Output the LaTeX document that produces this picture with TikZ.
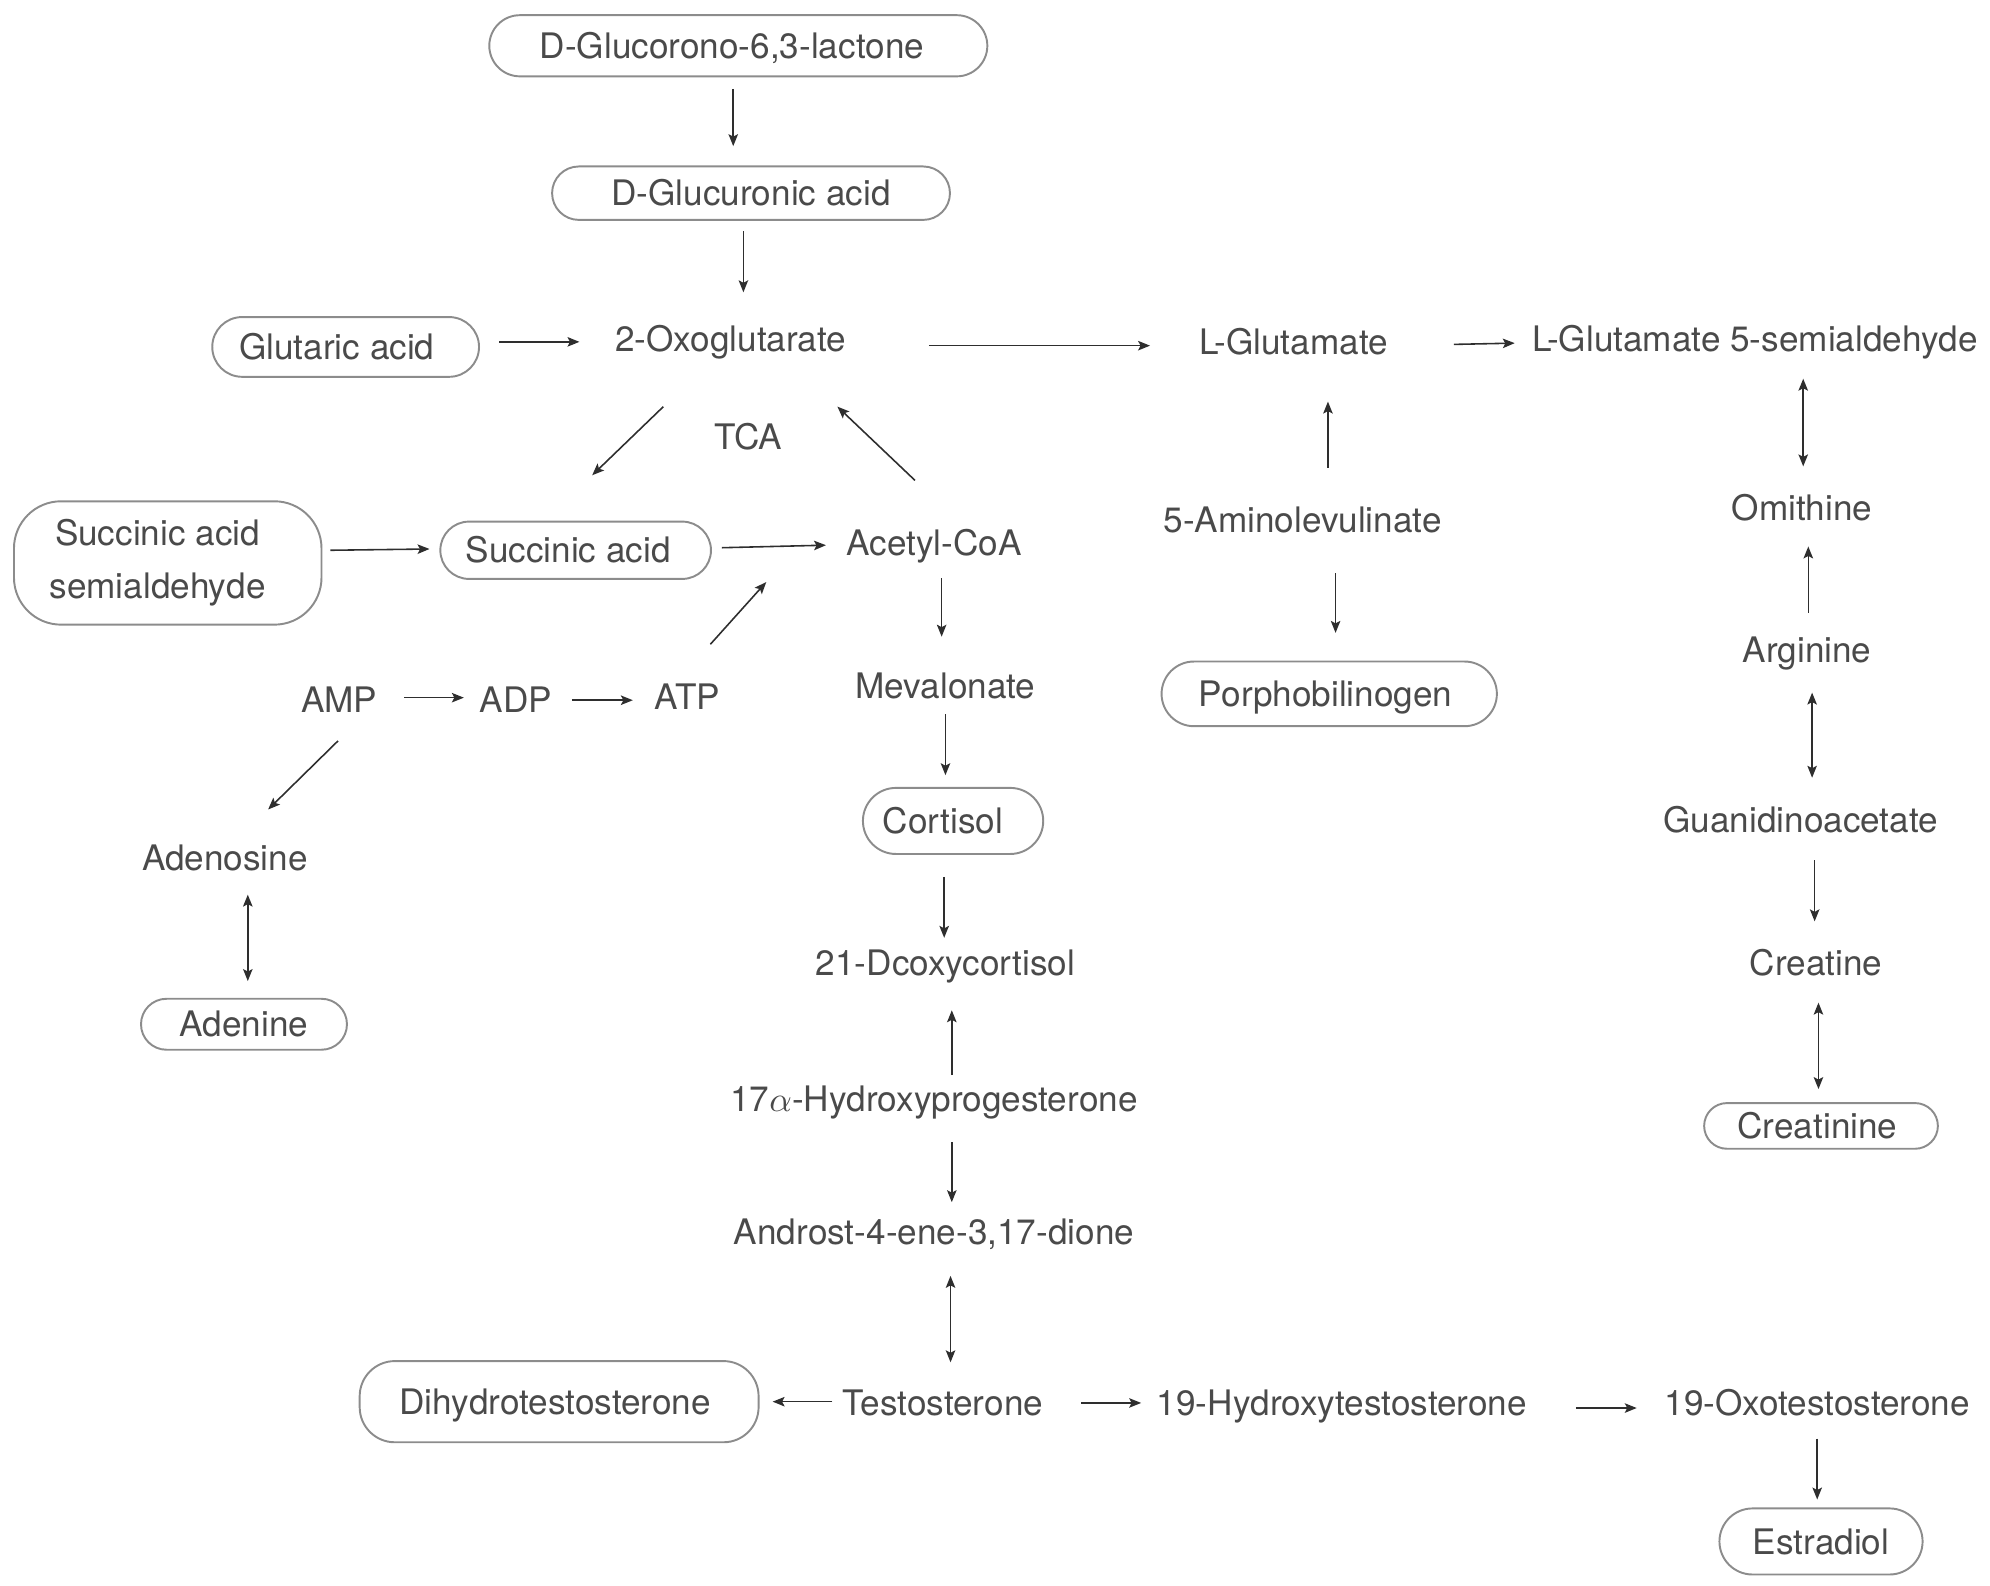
\documentclass[tikz,border=0pt]{standalone}
\usepackage{fontspec}
\setmainfont{TeX Gyre Heros}
\usetikzlibrary{arrows.meta, shapes, positioning}
\definecolor{txtgray}{HTML}{4A4A4A}
\definecolor{boxgray}{HTML}{8C8C8C}
\definecolor{arrgray}{HTML}{2E2E2E}

\begin{document}
\begin{tikzpicture}[x=0.36155pt,y=-0.36155pt,>={Stealth[length=3.4pt,width=2.7pt,inset=0.7pt]},line width=0.45pt,
  font=\fontsize{10}{12}\selectfont,text=txtgray,
  txt/.style={text height=7.2pt,text depth=0pt,inner sep=0pt},
  box/.style={rounded rectangle,draw=boxgray,line width=0.55pt,text height=7.2pt,text depth=0pt,inner sep=0pt},
  rbox/.style={rectangle,draw=boxgray,line width=0.55pt,inner sep=0pt,align=center},
  arr/.style={->,draw=arrgray}]
  \useasboundingbox (0,0) rectangle (1566,1247.3);
  % boxed metabolites (trailing space pulls the text a little left, as printed)
  \node[box,minimum width=141.7pt,minimum height=17.4pt] (lactone) at (581,36) {D-Glucorono-6,3-lactone\hspace*{3.6pt}};
  \node[box,minimum width=113.2pt,minimum height=15.2pt] (glcua) at (591,152) {D-Glucuronic acid};
  \node[box,minimum width=75.9pt,minimum height=17pt] (glut) at (272,273) {Glutaric acid\hspace*{5pt}};
  \node[rbox,rounded corners=13.4pt,minimum width=87.5pt,minimum height=35.1pt,font=\fontsize{10}{15.2}\selectfont] (ssa) at (132,443) {Succinic acid\hspace*{5.8pt}\\semialdehyde\hspace*{5.8pt}};
  \node[box,minimum width=77pt,minimum height=16.3pt] (succ) at (453,433) {Succinic acid\hspace*{4.3pt}};
  \node[box,minimum width=95.4pt,minimum height=18.4pt] (pbg) at (1046,546) {Porphobilinogen\hspace*{2pt}};
  \node[box,minimum width=51.3pt,minimum height=18.8pt] (cort) at (750,646) {Cortisol\hspace*{5.8pt}};
  \node[box,minimum width=58.6pt,minimum height=14.5pt] (ade) at (192,806) {Adenine};
  \node[box,minimum width=66.5pt,minimum height=13pt] (crtn) at (1433,886) {Creatinine\hspace*{2pt}};
  \node[rbox,rounded corners=10pt,minimum width=113.5pt,minimum height=23.1pt,text height=7.2pt,text depth=0pt] (dht) at (440,1103) {Dihydrotestosterone\hspace*{2.2pt}};
  \node[box,minimum width=57.8pt,minimum height=18.8pt] (e2) at (1433,1213) {Estradiol};
  % plain metabolites
  \node[txt] (oxo) at (575,267) {2-Oxoglutarate};
  \node[txt] (lglu) at (1018,269) {L-Glutamate};
  \node[txt] (lgsa) at (1381,267) {L-Glutamate 5-semialdehyde};
  \node[txt] (tca) at (589,344) {TCA};
  \node[txt] (acoa) at (735,427) {Acetyl-CoA};
  \node[txt] (ala) at (1025,409) {5-Aminolevulinate};
  \node[txt] (orn) at (1418,400) {Omithine};
  \node[txt] (amp) at (267,551) {AMP};
  \node[txt] (adp) at (406,551) {ADP};
  \node[txt] (atp) at (541,548) {ATP};
  \node[txt] (mev) at (744,540) {Mevalonate};
  \node[txt] (arg) at (1422,511) {Arginine};
  \node[txt] (ado) at (177,675) {Adenosine};
  \node[txt] (guaa) at (1417,645) {Guanidinoacetate};
  \node[txt] (dcox) at (744,758) {21-Dcoxycortisol};
  \node[txt] (crea) at (1429,758) {Creatine};
  \node[txt] (ohp) at (735,865) {17$\alpha$-Hydroxyprogesterone};
  \node[txt] (andro) at (735,969) {Androst-4-ene-3,17-dione};
  \node[txt] (testo) at (742,1104) {Testosterone};
  \node[txt] (oht) at (1056,1104) {19-Hydroxytestosterone};
  \node[txt] (oxt) at (1430,1104) {19-Oxotestosterone};
  % one-way reactions
  \foreach \s/\a/\t/\b in {lactone/{-4,34}/glcua/{-14,-37}, glcua/{-6,30}/oxo/{10,-37},
      glut/{121,-4}/oxo/{-119,2}, oxo/{156,5}/lglu/{-113,3}, lglu/{126,2}/lgsa/{-189,3},
      oxo/{-53,53}/succ/{13,-59}, acoa/{-15,-49}/oxo/{84,53}, ssa/{128,-10}/succ/{-115,-1},
      succ/{115,-2}/acoa/{-85,2}, atp/{18,-41}/acoa/{-132,31}, acoa/{6,28}/mev/{-3,-39},
      mev/{0,22}/cort/{-6,-36}, amp/{51,-2}/adp/{-41,-2}, adp/{44,0}/atp/{-43,3},
      amp/{-1,32}/ado/{34,-38}, cort/{-7,44}/dcox/{-1,-20}, ohp/{14,-19}/dcox/{5,37},
      ohp/{14,34}/andro/{14,-23}, testo/{-87,-1}/dht/{168,0}, testo/{109,0}/oht/{-158,0},
      oht/{184,4}/oxt/{-142,4}, oxt/{0,28}/e2/{-3,-33}, ala/{20,-41}/lglu/{27,47},
      ala/{26,42}/pbg/{5,-48}, arg/{1,-29}/orn/{5,30}, guaa/{11,32}/crea/{-1,-33}}
    {\draw[arr] ([shift={(\a)}]\s.center) -- ([shift={(\b)}]\t.center);}
  % reversible reactions
  \foreach \s/\a/\t/\b in {ado/{18,29}/ade/{3,-34}, andro/{13,35}/testo/{6,-32},
      lgsa/{38,31}/orn/{1,-33}, arg/{4,34}/guaa/{9,-33}, crea/{2,31}/crtn/{-2,-29}}
    {\draw[arr,<->] ([shift={(\a)}]\s.center) -- ([shift={(\b)}]\t.center);}
\end{tikzpicture}
\end{document}
